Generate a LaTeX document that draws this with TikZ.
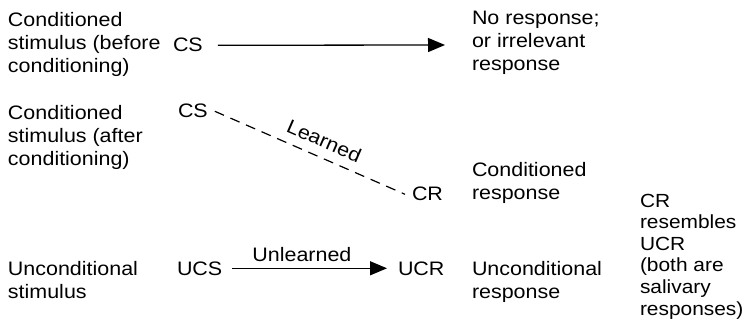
\documentclass[tikz,border=0pt]{standalone}
\usepackage{fontspec}
\setmainfont[FakeStretch=1.1]{Liberation Sans}
\usetikzlibrary{arrows.meta}
\begin{document}
\begin{tikzpicture}[x=1pt,y=-1pt,
  txt/.style={inner sep=0pt, outer sep=0pt, anchor=base west, align=left,
              font=\fontsize{19.5}{23}\selectfont},
  notes/.style={txt, font=\fontsize{19}{21.6}\selectfont},
  solidarrow/.style={line width=1.3pt, -{Triangle[length=17pt,width=14pt]}},
  dashlink/.style={line width=1.2pt, dash pattern=on 10pt off 7pt},
  edgelabel/.style={inner sep=0pt, font=\fontsize{19.5}{23}\selectfont}]
\useasboundingbox (0,0) rectangle (747,331);

% stimulus descriptions (placed by the baseline of their last line)
\node[txt] (stA) at (8,73)  {Conditioned\\stimulus (before\\conditioning)};
\node[txt] (stB) at (8,166) {Conditioned\\stimulus (after\\conditioning)};
\node[txt] (stC) at (8,298) {Unconditional\\stimulus};

% stimuli
\node[txt] (cs1) at (173,52)  {CS};
\node[txt] (cs2) at (178,118) {CS};
\node[txt] (ucs) at (177,275) {UCS};

% responses
\node[txt] (cr)  at (412,201) {CR};
\node[txt] (ucr) at (398,275) {UCR};

% response descriptions
\node[txt] (rsA) at (472,71)  {No response;\\or irrelevant\\response};
\node[txt] (rsB) at (472,200) {Conditioned\\response};
\node[txt] (rsC) at (472,298) {Unconditional\\response};

% remark
\node[notes] (note) at (640,315) {CR\\resembles\\UCR\\(both are\\salivary\\responses)};

% connectors
\coordinate (nrtip) at (445,45);
\draw[solidarrow] ([xshift=15pt]cs1.east) -- (nrtip);
\draw[dashlink] ([xshift=7pt]cs2.east) -- ([xshift=-7pt]cr.west)
  node[edgelabel, sloped, above=9pt, pos=0.54] (learned) {Learned};
\draw[solidarrow] ([xshift=10pt]ucs.east) -- ([xshift=-11pt]ucr.west)
  node[edgelabel, above=6pt, pos=0.45] (unlearned) {Unlearned};
\end{tikzpicture}
\end{document}
